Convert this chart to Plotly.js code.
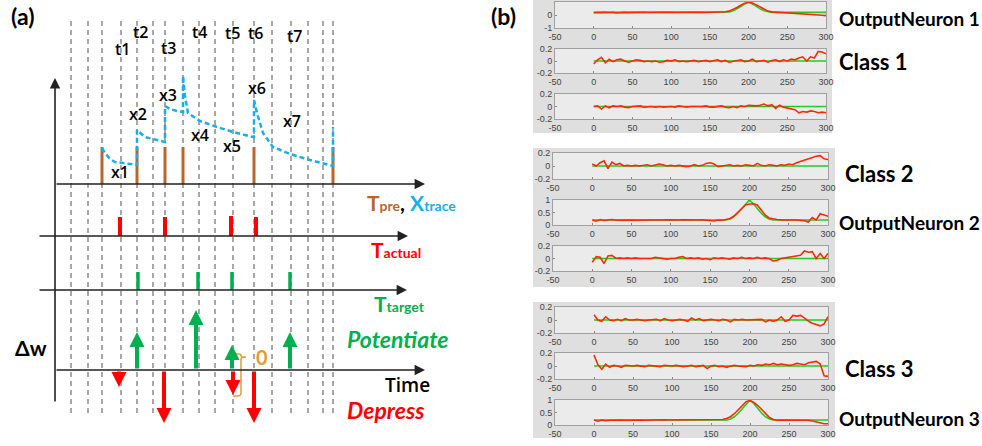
<!DOCTYPE html>
<html><head><meta charset="utf-8">
<script src="https://cdn.plot.ly/plotly-3.0.1.min.js"></script>
<style>html,body{margin:0;padding:0;background:#fff}#chart{width:982px;height:446px}</style>
</head><body><div id="chart"></div>
<script>
// ================= Panel (a) schematic data (time in schematic units) =================
const gridTimes = [16,33,47,66,82,98,110,128,144,160,178,199,217,236,253,268,278];
const preTimes = [47,82,110,128,199,278];
const preHeights = [37,37,37,37,37,37];
const traceT = [47,50,55,60,68,82,82,85,90,98,108,110,110,112,115,122,127,128,128,130,133,145,162,178,198,199,199,202,208,218,235,255,278,278];
const traceV = [36,31,25,22,21,19,54,51,47,45,42,42,78,77,75,73,72,72,108,88,71,63,57,52,47,47,84,71,51,37,30,24,18,57];
const actualTimes = [65,110,176,201];
const actualHeights = [19,19,20,19];
const targetTimes = [83,143,177,235];
const targetHeights = [18,18,18,18];
const potTimes = [82,141,177,235];
const potValues = [38,60,25,38];
const depTimes = [64,109,178,199];
const depValues = [-17,-53,-25,-53];
const spikeLabels = ['t1','t2','t3','t4','t5','t6','t7'];
const traceLabels = ['x1','x2','x3','x4','x5','x6','x7'];

// ================= Panel (b) data =================
const tB = [0,5,10,15,20,25,30,35,40,45,50,55,60,65,70,75,80,85,90,95,100,105,110,115,120,125,130,135,140,145,150,155,160,165,170,175,180,185,190,195,200,205,210,215,220,225,230,235,240,245,250,255,260,265,270,275,280,285,290,295,300];
const redON1 = [0.18,0.2,0.17,0.2,0.19,0.2,0.15,0.19,0.2,0.18,0.2,0.19,0.2,0.21,0.19,0.2,0.2,0.22,0.19,0.2,0.2,0.19,0.2,0.21,0.2,0.19,0.2,0.2,0.21,0.19,0.2,0.2,0.21,0.22,0.25,0.3,0.42,0.58,0.75,0.9,0.98,0.92,0.78,0.6,0.42,0.3,0.24,0.22,0.2,0.2,0.19,0.18,0.17,0.15,0.12,0.1,0.07,0.04,0.02,-0.02,-0.05];
const redC1a = [-0.05,0.02,0.06,-0.03,0.03,-0.01,0.02,0.03,0.0,-0.02,0.0,0.02,0.01,-0.01,0.0,-0.01,0.0,-0.02,-0.01,0.01,0.0,0.02,-0.01,0.0,-0.01,0.0,0.01,-0.01,0.0,0.01,-0.01,0.0,0.02,-0.01,0.01,-0.02,-0.01,0.0,0.02,-0.01,0.0,0.03,-0.01,0.0,0.01,-0.02,0.01,0.02,-0.01,0.02,0.0,0.03,0.02,0.05,0.07,0.0,0.07,0.05,0.16,0.15,0.12];
const redC1b = [0.0,0.01,-0.04,0.01,-0.02,0.01,0.0,0.01,-0.01,-0.02,0.0,0.0,0.01,-0.01,0.0,0.0,-0.01,0.0,-0.01,0.0,0.0,-0.01,0.01,0.0,-0.01,0.0,0.0,-0.01,0.0,0.01,-0.01,-0.01,0.0,0.01,-0.01,-0.02,0.0,-0.02,0.01,0.0,0.02,0.01,0.01,0.02,0.04,0.01,0.03,-0.03,0.02,-0.01,-0.02,-0.03,-0.05,-0.1,-0.08,-0.09,-0.07,-0.08,-0.1,-0.09,-0.1];
const redC2a = [0.03,0.0,0.05,0.08,-0.04,0.06,0.02,0.04,0.0,0.01,0.0,0.01,0.0,0.01,0.02,0.0,0.01,0.03,0.02,0.0,0.01,0.0,0.01,0.0,-0.01,0.0,0.02,0.0,0.01,0.04,0.05,0.03,-0.01,0.0,0.01,0.02,0.0,0.01,0.0,0.02,0.01,0.0,0.04,0.01,0.0,0.02,0.01,0.0,0.02,0.01,0.03,0.02,0.05,0.07,0.1,0.12,0.14,0.15,0.16,0.11,0.1];
const redON2 = [0.2,0.15,0.22,0.18,0.2,0.22,0.19,0.2,0.2,0.21,0.2,0.19,0.2,0.2,0.21,0.2,0.2,0.19,0.2,0.21,0.2,0.2,0.2,0.21,0.2,0.19,0.2,0.2,0.21,0.2,0.19,0.16,0.2,0.19,0.22,0.25,0.35,0.5,0.68,0.8,0.84,0.85,0.8,0.6,0.4,0.28,0.24,0.22,0.2,0.21,0.2,0.2,0.2,0.19,0.17,0.12,0.3,0.2,0.45,0.4,0.35];
const redC2b = [-0.06,0.03,0.02,-0.08,0.04,0.05,0.0,0.01,0.0,0.01,0.0,0.01,0.0,0.0,0.01,0.0,0.02,0.01,0.0,-0.01,0.0,0.0,0.02,0.03,0.0,0.01,0.0,0.01,-0.01,0.0,-0.02,0.01,0.0,0.01,0.0,-0.01,0.01,0.0,0.02,0.0,0.01,0.0,0.02,0.0,0.01,0.0,-0.04,-0.03,0.0,0.01,0.02,0.03,0.04,0.05,0.12,0.1,0.11,0.0,0.08,0.0,0.08];
const redC3a = [0.08,0.0,-0.02,0.05,0.0,-0.01,0.01,-0.01,0.02,0.0,0.0,0.01,0.0,-0.01,0.0,0.0,0.01,-0.01,0.02,0.0,-0.01,0.0,0.01,0.0,-0.02,0.03,0.0,0.02,-0.01,0.0,0.01,0.0,-0.01,0.01,0.0,-0.03,0.01,0.0,0.01,0.0,0.0,0.01,0.0,0.01,-0.03,0.0,-0.02,0.0,0.05,-0.02,0.0,0.07,0.06,0.07,0.03,-0.02,-0.05,-0.07,-0.09,-0.06,0.05];
const redC3b = [0.17,0.02,-0.05,0.03,-0.02,0.01,0.0,-0.02,0.01,0.0,0.0,0.01,0.0,-0.01,0.01,0.0,0.0,-0.01,0.01,0.0,0.0,0.01,0.0,-0.01,0.0,0.01,-0.01,0.0,0.01,-0.04,0.0,0.01,-0.01,0.0,-0.02,0.0,0.01,0.0,0.0,-0.01,0.01,0.0,0.02,0.01,0.03,0.02,0.04,0.02,0.03,0.02,0.01,0.02,0.04,0.03,0.02,0.05,0.06,0.07,0.03,-0.15,-0.16];
const redON3 = [0.2,0.15,0.2,0.17,0.19,0.2,0.21,0.2,0.19,0.2,0.21,0.2,0.2,0.19,0.2,0.2,0.19,0.2,0.21,0.2,0.2,0.19,0.2,0.2,0.21,0.2,0.19,0.2,0.2,0.21,0.2,0.2,0.21,0.22,0.26,0.33,0.45,0.62,0.8,0.93,0.98,0.9,0.78,0.62,0.45,0.3,0.22,0.19,0.2,0.2,0.19,0.2,0.2,0.21,0.2,0.19,0.16,0.12,0.08,0.05,0.05];
const greenNeuronT = [0,170,175,180,185,190,195,200,205,210,215,220,225,230,300];
const greenNeuronV = [0.2,0.2,0.24,0.33,0.47,0.65,0.85,1,0.85,0.65,0.47,0.33,0.24,0.2,0.2];
const greenClassT = [0,300];
const greenClassV = [0,0];
const xTickVals = [-50,0,50,100,150,200,250,300];
const xTickText = ['-50','0','50','100','150','200','250','300'];

// ================= helpers / layout =================
const W = 982, H = 446;
const px = v => v / W, py = v => 1 - v / H;
const FONT = 'Lato, "Open Sans", sans-serif';
const FONT_MED = '"Open Sans", Lato, sans-serif';
const C_BROWN = '#b9662e', C_BLUE = '#1aaee9', C_RED = '#ff0000', C_GREEN = '#00b050', C_ORANGE = '#e69b34';

function spikes(times, heights) {
  const x = [], y = [];
  times.forEach((t, i) => { x.push(t, t, null); y.push(0, heights[i], null); });
  return {x, y};
}

const traces = [];
const shapes = [];
const annotations = [];

// dashed guide lines
gridTimes.forEach(t => shapes.push({type:'line', xref:'x', yref:'paper', x0:t, x1:t, y0:py(413), y1:py(20),
  line:{color:'#8c8c8c', width:1.5, dash:'5px,4px'}, layer:'below'}));

// spikes
const sp = spikes(preTimes, preHeights);
traces.push({type:'scatter', mode:'lines', x:sp.x, y:sp.y, xaxis:'x', yaxis:'y', line:{color:C_BROWN, width:3}, hoverinfo:'skip'});
traces.push({type:'scatter', mode:'lines', x:traceT, y:traceV, xaxis:'x', yaxis:'y', line:{color:C_BLUE, width:2.5, dash:'5px,3px'}, hoverinfo:'skip'});
const sa = spikes(actualTimes, actualHeights);
traces.push({type:'scatter', mode:'lines', x:sa.x, y:sa.y, xaxis:'x', yaxis:'y2', line:{color:C_RED, width:4}, hoverinfo:'skip'});
const st = spikes(targetTimes, targetHeights);
traces.push({type:'scatter', mode:'lines', x:st.x, y:st.y, xaxis:'x', yaxis:'y3', line:{color:C_GREEN, width:3.5}, hoverinfo:'skip'});

// axis arrows
const axArrow = (x, y, yref, ax, ay) => ({x, y, xref:'x', yref, axref:'pixel', ayref:'pixel', ax, ay, text:'',
  showarrow:true, arrowhead:2, arrowsize:1.3, arrowwidth:1.6, arrowcolor:'#222', standoff:0});
annotations.push(axArrow(0, 106, 'y', 0, 325));
annotations.push(axArrow(370, 0, 'y', -370, 0));
annotations.push(axArrow(353, 0, 'y2', -370, 0));
annotations.push(axArrow(352, 0, 'y3', -369, 0));
annotations.push(axArrow(370, 0, 'y4', -370, 0));

// Δw arrows
potTimes.forEach((t, i) => annotations.push({x:t, y:potValues[i], xref:'x', yref:'y4', axref:'x', ayref:'y4', ax:t, ay:0, text:'',
  showarrow:true, arrowhead:2, arrowsize:0.75, arrowwidth:4, arrowcolor:C_GREEN, standoff:0}));
depTimes.forEach((t, i) => annotations.push({x:t, y:depValues[i], xref:'x', yref:'y4', axref:'x', ayref:'y4', ax:t, ay:0, text:'',
  showarrow:true, arrowhead:2, arrowsize:0.75, arrowwidth:4, arrowcolor:C_RED, standoff:0}));

// brace
shapes.push({type:'path', xref:'x', yref:'y4', path:'M178,16 L184,16 Q186,16 186,14 Q186,13 191,13 Q186,13 186,11 L186,-23 Q186,-26 182,-26 L178,-26',
  line:{color:C_ORANGE, width:1.5}});

// text labels (positions in px)
const txt = (text, x, y, size, color, xanchor, family, weight) => ({text, xref:'paper', yref:'paper', x:px(x), y:py(y),
  xanchor:xanchor || 'center', yanchor:'middle', showarrow:false,
  font:{family:family || FONT, size, color:color || '#000', weight:weight || 'normal'}});
annotations.push(txt('<b>(a)</b>', 22, 16, 23));
annotations.push(txt('<b>(b)</b>', 503, 16, 23));
const tPos = [[122,49],[140,32],[168,48],[199,32],[232,33],[256,33],[294,36]];
spikeLabels.forEach((s, i) => annotations.push(txt(s, tPos[i][0], tPos[i][1], 16, '#000', 'center', FONT_MED, 600)));
const xPos = [[120,172],[138,114],[168,95],[200,135],[232,146],[257,88],[292,121]];
traceLabels.forEach((s, i) => annotations.push(txt(s, xPos[i][0], xPos[i][1], 16, '#000', 'center', FONT_MED, 600)));
annotations.push(txt('<b>Δw</b>', 31, 347, 21));
annotations.push(txt('<b><span style="color:'+C_BROWN+'">T</span><span style="color:'+C_BROWN+';font-size:14px">pre</span>, <span style="color:'+C_BLUE+'">X</span><span style="color:'+C_BLUE+';font-size:14px">trace</span></b>', 365, 202, 21, '#000', 'left'));
annotations.push(txt('<b>T<span style="font-size:14px">actual</span></b>', 369, 250, 21, C_RED, 'left'));
annotations.push(txt('<b>T<span style="font-size:14px">target</span></b>', 372, 303, 21, C_GREEN, 'left'));
annotations.push(txt('<b><i>Potentiate</i></b>', 345, 339, 23, C_GREEN, 'left'));
annotations.push(txt('Time', 383, 385, 19, '#000', 'left', FONT_MED, 600));
annotations.push(txt('<b><i>Depress</i></b>', 345, 410, 23, C_RED, 'left'));
annotations.push(txt('<b>0</b>', 262, 357, 20, C_ORANGE));

// panel (b) labels
annotations.push(txt('<b>OutputNeuron 1</b>', 837, 18, 19, '#000', 'left'));
annotations.push(txt('<b>Class 1</b>', 837, 62, 22, '#000', 'left'));
annotations.push(txt('<b>Class 2</b>', 843, 173, 22, '#000', 'left'));
annotations.push(txt('<b>OutputNeuron 2</b>', 837, 222, 19, '#000', 'left'));
annotations.push(txt('<b>Class 3</b>', 843, 368, 22, '#000', 'left'));
annotations.push(txt('<b>OutputNeuron 3</b>', 837, 418, 19, '#000', 'left'));

const layout = {
  width:W, height:H, margin:{l:0, r:0, t:0, b:0, pad:0},
  paper_bgcolor:'#ffffff', plot_bgcolor:'rgba(0,0,0,0)', showlegend:false,
  xaxis:{domain:[0, px(540)], range:[-55, 485], visible:false, fixedrange:true},
  yaxis:{domain:[py(184), py(70)], range:[0, 114], visible:false, anchor:'x', fixedrange:true},
  yaxis2:{domain:[py(236), py(206)], range:[0, 30], visible:false, anchor:'x', fixedrange:true},
  yaxis3:{domain:[py(290), py(260)], range:[0, 30], visible:false, anchor:'x', fixedrange:true},
  yaxis4:{domain:[py(430), py(300)], range:[-60, 70], visible:false, anchor:'x', fixedrange:true},
  annotations
};

// group backgrounds (MATLAB figure areas)
const groups = [[533,832,0,133],[533,835,148,287],[533,835,302,438]];
const bgShapes = groups.map(g => ({type:'rect', xref:'paper', yref:'paper', x0:px(g[0]), x1:px(g[1]), y0:py(g[3]), y1:py(g[2]),
  fillcolor:'#dfdfdf', line:{width:0}, layer:'below'}));

const panels = [
  {s:redON1, n:true, yr:[-1,1], yt:[-1,0,1], ytt:['-1','0','1'], xd:[555,826], yd:[2,28]},
  {s:redC1a, n:false, xd:[555,826], yd:[49,73]},
  {s:redC1b, n:false, xd:[555,826], yd:[94,119]},
  {s:redC2a, n:false, xd:[553,828], yd:[153,179]},
  {s:redON2, n:true, yr:[0,1], yt:[0,0.5,1], ytt:['0','0.5','1'], xd:[553,828], yd:[200,225]},
  {s:redC2b, n:false, xd:[553,828], yd:[246,271]},
  {s:redC3a, n:false, xd:[555,828], yd:[307,333]},
  {s:redC3b, n:false, xd:[555,828], yd:[353,379]},
  {s:redON3, n:true, yr:[0,1], yt:[0,0.5,1], ytt:['0','0.5','1'], xd:[555,828], yd:[400,425]}
];
const tickFont = {family:'"Liberation Sans", Arial, sans-serif', size:9, color:'#444'};
const axBgShapes = [];
panels.forEach((p, i) => {
  const xi = i + 2, yi = i + 5;
  layout['xaxis'+xi] = {domain:[px(p.xd[0]), px(p.xd[1])], range:[-50,300], anchor:'y'+yi,
    tickmode:'array', tickvals:xTickVals, ticktext:xTickText, ticks:'inside', ticklen:2, tickcolor:'#888',
    showline:true, mirror:true, linecolor:'#a0a0a0', linewidth:1, showgrid:false, zeroline:false, tickfont:tickFont, fixedrange:true};
  layout['yaxis'+yi] = {domain:[py(p.yd[1]), py(p.yd[0])], range:p.n ? p.yr : [-0.2,0.2], anchor:'x'+xi,
    tickmode:'array', tickvals:p.n ? p.yt : [-0.2,0,0.2], ticktext:p.n ? p.ytt : ['-0.2','0','0.2'], ticks:'inside', ticklen:2, tickcolor:'#888',
    showline:true, mirror:true, linecolor:'#a0a0a0', linewidth:1, showgrid:false, zeroline:false, tickfont:tickFont, fixedrange:true};
  axBgShapes.push({type:'rect', xref:'x'+xi+' domain', yref:'y'+yi+' domain', x0:0, x1:1, y0:0, y1:1,
    fillcolor:'#ebebeb', line:{width:0}, layer:'below'});
  traces.push({type:'scatter', mode:'lines', x:p.n ? greenNeuronT : greenClassT, y:p.n ? greenNeuronV : greenClassV,
    xaxis:'x'+xi, yaxis:'y'+yi, line:{color:'#22cc22', width:1.6}, hoverinfo:'skip'});
  traces.push({type:'scatter', mode:'lines', x:tB, y:p.s, xaxis:'x'+xi, yaxis:'y'+yi,
    line:{color:'#ff2a00', width:1.6}, hoverinfo:'skip'});
});
layout.shapes = bgShapes.concat(axBgShapes, shapes);

Plotly.newPlot('chart', traces, layout, {staticPlot:true, displayModeBar:false});
</script></body></html>
